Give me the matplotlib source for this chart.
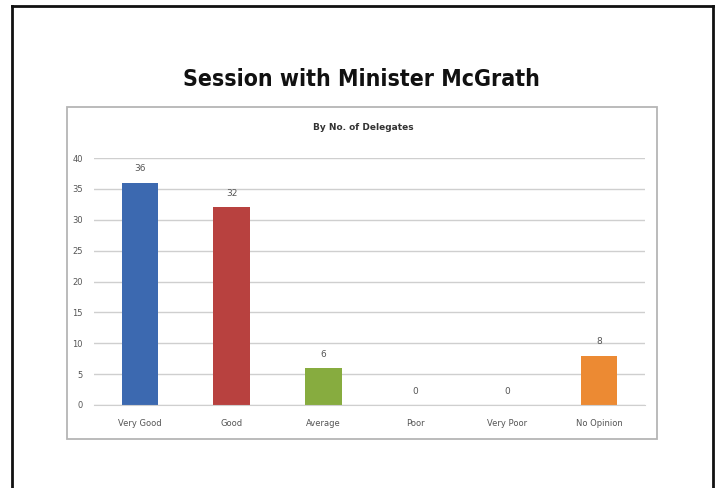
import matplotlib.pyplot as plt
from matplotlib import font_manager
from matplotlib.patches import Rectangle
from matplotlib.lines import Line2D

categories = ['Very Good', 'Good', 'Average', 'Poor', 'Very Poor', 'No Opinion']
delegates = [36, 32, 6, 0, 0, 8]
bar_colors = ['#3c69b0', '#b8413f', '#87ac3f', '#8c8c8c', '#8c8c8c', '#ec8a33']
y_ticks = [0, 5, 10, 15, 20, 25, 30, 35, 40]

W, H = 718, 488
fig = plt.figure(figsize=(W / 100, H / 100), dpi=100)
fig.patch.set_facecolor('white')

# pick a narrow bold face for the slide title if one is installed
title_font = None
for f in font_manager.fontManager.ttflist:
    narrow = 'Narrow' in f.name or 'Condensed' in f.name or 'condensed' in str(f.stretch)
    if narrow and f.weight in ('bold', 700) and 'Mono' not in f.name:
        title_font = font_manager.FontProperties(fname=f.fname, size=16.6)
        break
if title_font is None:
    title_font = font_manager.FontProperties(family='Liberation Sans', weight='bold', size=15)

fx = lambda px: px / W
fy = lambda py: 1 - py / H

# outer slide border (left, top, right)
for xs, ys in [([12, 12], [6, 490]), ([12, 713], [6, 6]), ([713, 713], [6, 490])]:
    fig.add_artist(Line2D([fx(x) for x in xs], [fy(y) for y in ys],
                          color='#111111', lw=2.0, transform=fig.transFigure))

# chart box
fig.add_artist(Rectangle((fx(67), fy(439)), fx(657) - fx(67), fy(107) - fy(439),
                         transform=fig.transFigure, fill=False,
                         edgecolor='#b5b5b5', lw=1.3))

fig.text(fx(361), fy(86), 'Session with Minister McGrath', ha='center', va='baseline',
         fontproperties=title_font, color='#111111')
fig.text(fx(363), fy(127), 'By No. of Delegates', ha='center', va='center',
         fontsize=6.5, fontweight='bold', color='#333333')

ax = fig.add_axes([fx(94), fy(405), fx(645) - fx(94), fy(158) - fy(405)])
x = range(len(categories))
ax.bar(x, delegates, width=0.4, color=bar_colors)
for xi, v in zip(x, delegates):
    ax.annotate(str(v), (xi, v), xytext=(0, 10), textcoords='offset points',
                ha='center', va='center', fontsize=6.5, color='#555555')

ax.set_xlim(-0.5, len(categories) - 0.5)
ax.set_ylim(0, 40)
ax.set_yticks(y_ticks)
ax.set_xticks(list(x))
ax.set_xticklabels(categories)
ax.tick_params(axis='both', length=0, labelsize=6, labelcolor='#555555')
ax.tick_params(axis='y', pad=8)
ax.tick_params(axis='x', pad=10)
ax.grid(axis='y', color='#cfcfcf', lw=1)
ax.set_axisbelow(True)
for s in ['top', 'right', 'left']:
    ax.spines[s].set_visible(False)
ax.spines['bottom'].set_color('#cfcfcf')

fig.savefig('out.png', dpi=100)
